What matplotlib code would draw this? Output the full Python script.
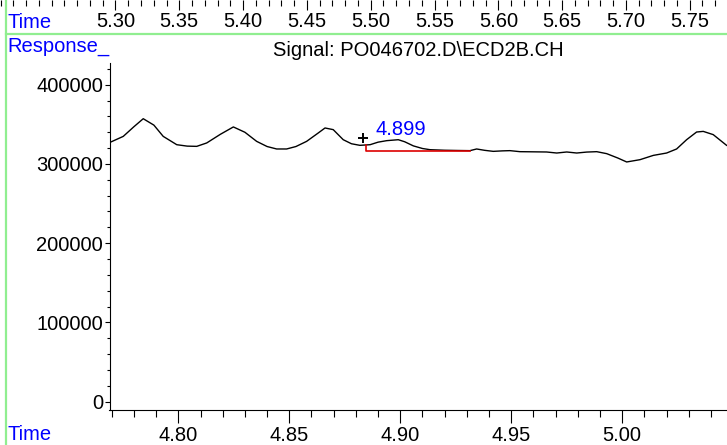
import numpy as np
import matplotlib
matplotlib.use("Agg")
from matplotlib import pyplot as plt
from matplotlib.ticker import MultipleLocator, FormatStrFormatter

plt.rcParams['font.family'] = ['Liberation Sans', 'DejaVu Sans']

# trace: retention time (min) / response
rt = [4.7692, 4.7752, 4.7800, 4.7842, 4.7890, 4.7932, 4.7993, 4.8040, 4.8083,
      4.8128, 4.8190, 4.8248, 4.8300, 4.8353, 4.8400, 4.8443, 4.8488, 4.8530,
      4.8578, 4.8630, 4.8661, 4.8698, 4.8743, 4.8780, 4.8818, 4.8864, 4.8900,
      4.8939, 4.8991, 4.9020, 4.9059, 4.9100, 4.9134, 4.9200, 4.9260, 4.9314,
      4.9344, 4.9380, 4.9419, 4.9460, 4.9494, 4.9539, 4.9600, 4.9659, 4.9705,
      4.9750, 4.9795, 4.9840, 4.9885, 4.9930, 4.9980, 5.0020, 5.0080, 5.0140,
      5.0200, 5.0245, 5.0290, 5.0335, 5.0365, 5.0410, 5.0470]
resp = [327200, 334800, 347000, 357100, 349000, 334800, 324300, 322500, 322200,
        326500, 337500, 346700, 340000, 328500, 322000, 318900, 318900, 322000,
        328500, 339000, 345400, 343300, 330600, 325500, 323500, 324300, 327500,
        329400, 330600, 328000, 322800, 319500, 318000, 317300, 317000, 316800,
        318900, 317200, 315900, 316500, 316800, 315500, 315300, 315100, 313800,
        315100, 313800, 315000, 315500, 313000, 307500, 302500, 305400, 310800,
        313800, 318900, 330600, 340300, 341100, 337000, 323500]

# integration baseline and peak label
base_rt = [4.8844, 4.8844, 4.9314]
base_resp = [323500, 316800, 316800]
peak_rt = 4.899
peak_resp = 330600
mark_rt = 4.8833
mark_resp = 332800

top_ticks = [5.30, 5.35, 5.40, 5.45, 5.50, 5.55, 5.60, 5.65, 5.70, 5.75]
y_ticks = [0, 100000, 200000, 300000, 400000]

W, H = 727, 445
fig = plt.figure(figsize=(W / 100, H / 100), dpi=100)
fs = 14.5
blue = '#0000ff'
green = '#90ee90'

# ---- strip of previous chart's time axis at the top ----
top = fig.add_axes([0, 1.0, 1, 0.05])
top.set_xlim(5.2095, 5.7792)
for s in top.spines.values():
    s.set_visible(False)
top.set_yticks([])
top.set_xticks(top_ticks)
top.xaxis.set_major_formatter(FormatStrFormatter('%.2f'))
top.xaxis.set_minor_locator(MultipleLocator(0.01))
top.tick_params(axis='x', which='major', direction='out', length=7.2, width=0.8,
                labelsize=fs, pad=1.5)
top.tick_params(axis='x', which='minor', direction='out', length=4.3, width=0.8)

# ---- main chart ----
ax = fig.add_axes([109.5 / W, (H - 410) / H, (W - 109.5) / W, (410 - 63) / H])
ax.plot(rt, resp, color='black', lw=1.0)
ax.plot(base_rt, base_resp, color='#dd0000', lw=1.2)
ax.plot([mark_rt], [mark_resp], marker='+', color='black', ms=7.5, mew=1.4)
ax.annotate(f'{peak_rt:.3f}', xy=(peak_rt, peak_resp), xytext=(-16.5, 3.6),
            textcoords='offset points', color=blue, fontsize=fs,
            ha='left', va='baseline')

ax.set_xlim(4.7690, 5.0472)
ax.set_ylim(-10500, 427400)
ax.spines['top'].set_visible(False)
ax.spines['right'].set_visible(False)
ax.xaxis.set_major_locator(MultipleLocator(0.05))
ax.xaxis.set_minor_locator(MultipleLocator(0.01))
ax.xaxis.set_major_formatter(FormatStrFormatter('%.2f'))
ax.set_yticks(y_ticks)
ax.yaxis.set_minor_locator(MultipleLocator(20000))
ax.yaxis.set_major_formatter(FormatStrFormatter('%d'))
ax.tick_params(axis='x', which='major', length=9.5, width=0.8, labelsize=fs, pad=2)
ax.tick_params(axis='x', which='minor', length=4.8, width=0.8)
ax.tick_params(axis='y', which='major', length=3.6, width=0.8, labelsize=fs, pad=1)
ax.tick_params(axis='y', which='minor', length=2, width=0.8)

# ---- frame lines and labels ----
fig.add_artist(plt.Line2D([5.7 / W, 5.7 / W], [0, 1], color=green, lw=1.6))
fig.add_artist(plt.Line2D([5.7 / W, 1], [1 - 34.3 / H, 1 - 34.3 / H], color=green, lw=1.6))
fig.text(7 / W, 1 - 22.5 / H, 'Time', color=blue, fontsize=fs, ha='left', va='center')
fig.text(7 / W, 1 - 47 / H, 'Response_', color=blue, fontsize=fs, ha='left', va='center')
fig.text(418 / W, 1 - 50 / H, 'Signal: PO046702.D\\ECD2B.CH', color='black',
         fontsize=fs, ha='center', va='center')
fig.text(7 / W, 1 - 435 / H, 'Time', color=blue, fontsize=fs, ha='left', va='center')

fig.savefig('out.png', dpi=100)
